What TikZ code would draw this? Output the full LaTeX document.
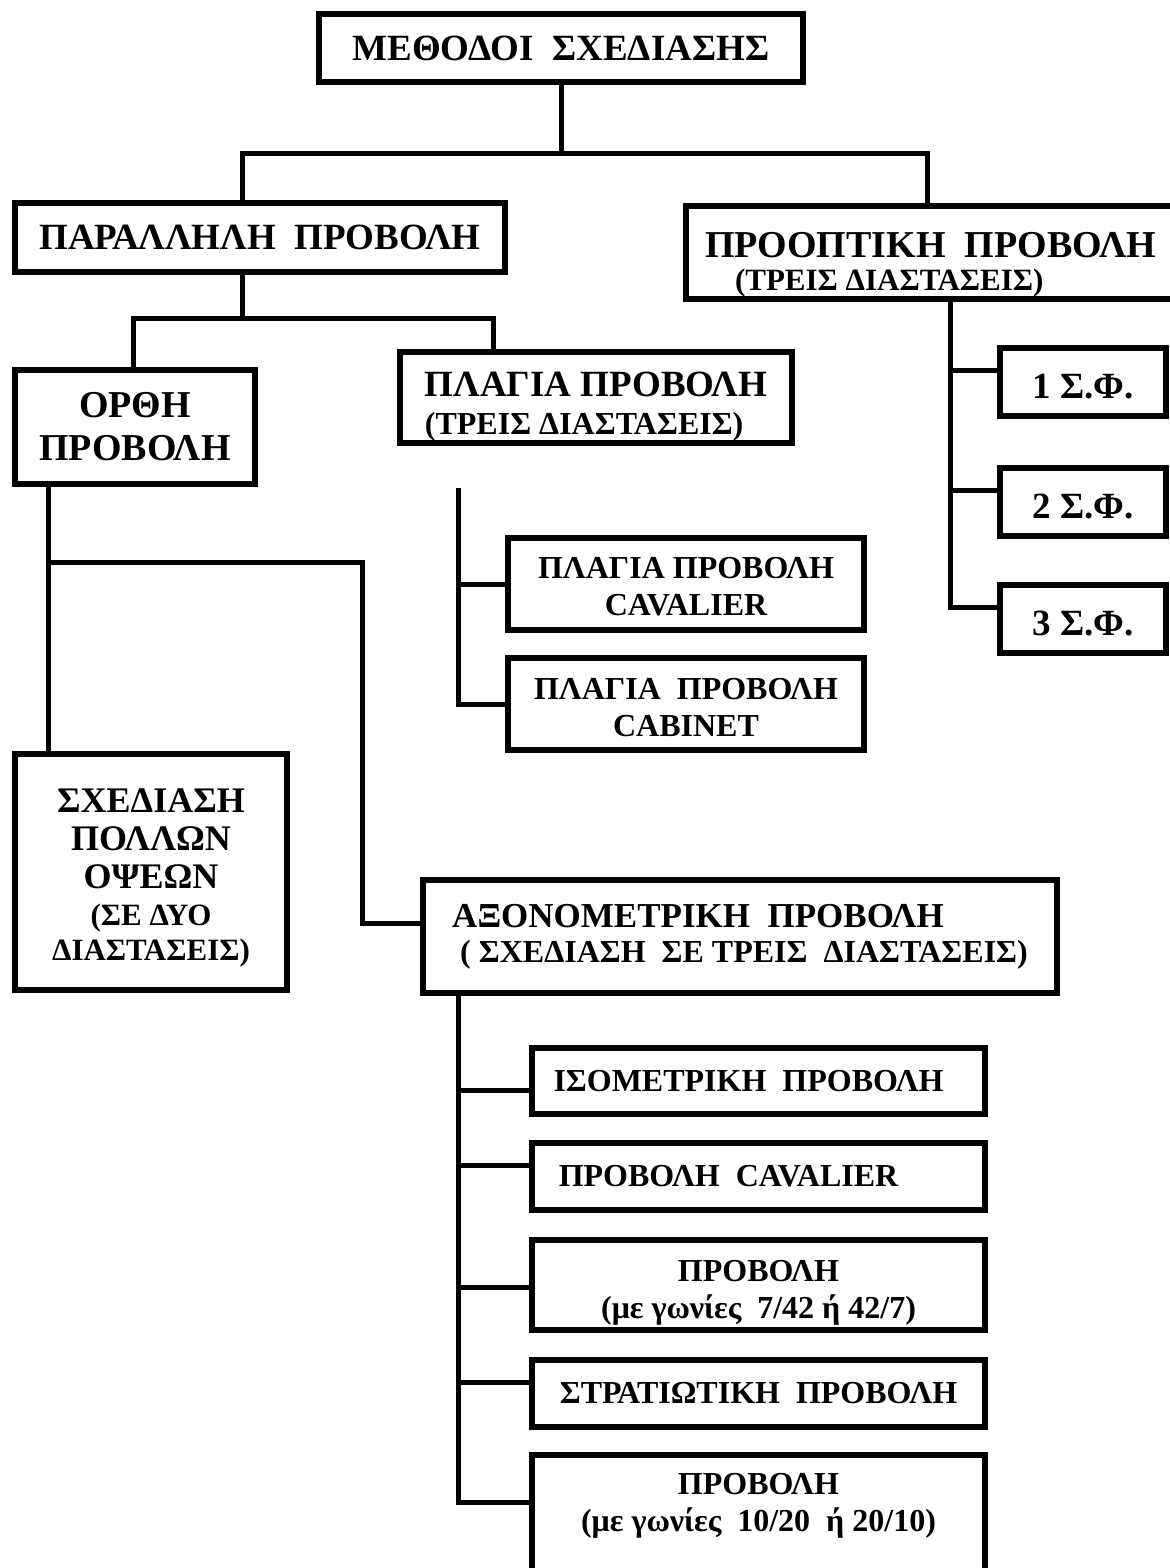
\documentclass[tikz,border=0pt]{standalone}
\usepackage{fontspec}
\setmainfont{Liberation Serif}
\usepackage{tikz}

\begin{document}
\begin{tikzpicture}[x=0.5pt,y=-0.5pt]
    \tikzstyle{box} = [rectangle, draw, line width=3pt, align=center, inner sep=0pt, font=\bfseries\fontsize{16}{18.5}\selectfont]
    \tikzstyle{big} = [font=\bfseries\fontsize{18.5}{21}\selectfont]
    \tikzstyle{link} = [line width=2.5pt]
    \useasboundingbox (0,0) rectangle (1169,1568);

    \node[box, big, minimum width=242pt, minimum height=34pt] (title) at (561,48) {ΜΕΘΟΔΟΙ~~ΣΧΕΔΙΑΣΗΣ};

    \node[box, big, minimum width=245pt, minimum height=34.5pt] (par) at (260,237.5) {ΠΑΡΑΛΛΗΛΗ~~ΠΡΟΒΟΛΗ};
    \node[box, align=left, font=\bfseries\fontsize{19}{16.5}\selectfont, minimum width=244.5pt, minimum height=46.5pt] (persp) at (930.5,252.5) {\rule{0pt}{25pt}ΠΡΟΟΠΤΙΚΗ~~ΠΡΟΒΟΛΗ\\\hspace*{15pt}{\fontsize{15.5}{16.5}\selectfont(ΤΡΕΙΣ ΔΙΑΣΤΑΣΕΙΣ)}};

    \node[box, font=\bfseries\fontsize{19}{21.5}\selectfont, minimum width=120pt, minimum height=57pt] (orth) at (135,427) {ΟΡΘΗ\\ΠΡΟΒΟΛΗ};
    \node[box, align=left, font=\bfseries\fontsize{18.5}{19}\selectfont, minimum width=196pt, minimum height=45.5pt] (plag) at (596,397.5) {\rule{0pt}{21.2pt}ΠΛΑΓΙΑ ΠΡΟΒΟΛΗ\\{\fontsize{16}{19}\selectfont(ΤΡΕΙΣ ΔΙΑΣΤΑΣΕΙΣ)}};

    \node[box, minimum width=178pt, minimum height=46pt] (cav) at (686,584) {\rule{0pt}{13.5pt}ΠΛΑΓΙΑ ΠΡΟΒΟΛΗ\\CAVALIER};
    \node[box, minimum width=178pt, minimum height=46pt] (cab) at (686,704) {\rule{0pt}{14.5pt}ΠΛΑΓΙΑ~~ΠΡΟΒΟΛΗ\\CABINET};

    \node[box, big, minimum width=83pt, minimum height=34pt] (sf1) at (1083,382) {\rule{0pt}{17pt}1 Σ.Φ.};
    \node[box, big, minimum width=83pt, minimum height=34pt] (sf2) at (1083,502) {\rule{0pt}{17pt}2 Σ.Φ.};
    \node[box, big, minimum width=83pt, minimum height=34pt] (sf3) at (1083,619) {\rule{0pt}{17pt}3 Σ.Φ.};

    \node[box, font=\bfseries\fontsize{18}{19}\selectfont, minimum width=136pt, minimum height=118pt] (multi) at (151,872) {\rule{0pt}{17.9pt}ΣΧΕΔΙΑΣΗ\\ΠΟΛΛΩΝ\\ΟΨΕΩΝ\\[-0.5pt]{\fontsize{15.5}{17.5}\selectfont(ΣΕ ΔΥΟ}\\[-1.5pt]{\fontsize{15.5}{17.5}\selectfont ΔΙΑΣΤΑΣΕΙΣ)}};

    \node[box, align=left, font=\bfseries\fontsize{17.5}{17.5}\selectfont, minimum width=317pt, minimum height=56.5pt] (axo) at (740,936.5) {ΑΞΟΝΟΜΕΤΡΙΚΗ~~ΠΡΟΒΟΛΗ\\\hspace*{4pt}{\fontsize{16}{17.5}\selectfont(~ΣΧΕΔΙΑΣΗ~~ΣΕ ΤΡΕΙΣ~~ΔΙΑΣΤΑΣΕΙΣ)}};

    \node[box, minimum width=226.5pt, minimum height=33pt] (iso) at (758.5,1081) {ΙΣΟΜΕΤΡΙΚΗ~~ΠΡΟΒΟΛΗ\hspace*{10pt}};
    \node[box, minimum width=226.5pt, minimum height=33.5pt] (pcav) at (758.5,1176.5) {ΠΡΟΒΟΛΗ~~CAVALIER\hspace*{30pt}};
    \node[box, minimum width=226.5pt, minimum height=45pt] (p742) at (758.5,1285) {\rule{0pt}{18pt}ΠΡΟΒΟΛΗ\\(με γωνίες~~7/42 ή 42/7)};
    \node[box, minimum width=226.5pt, minimum height=33.5pt] (strat) at (758.5,1393.5) {ΣΤΡΑΤΙΩΤΙΚΗ~~ΠΡΟΒΟΛΗ};
    \node[box, minimum width=226.5pt, minimum height=59.5pt] (last) at (758.5,1514.5) {ΠΡΟΒΟΛΗ\\(με γωνίες~~10/20~~ή 20/10)\\[-12pt]\strut};

    \coordinate (b0l) at (242,153);
    \coordinate (b0r) at (927,153);
    \coordinate (b1c) at (242,318);
    \coordinate (b1l) at (133,318);
    \coordinate (b1r) at (493,318);
    \coordinate (ptop) at (458,488);
    \coordinate (pj) at (950,0);
    \coordinate (oj) at (48,0);
    \coordinate (ob) at (48,562);
    \coordinate (ob2) at (362,562);
    \coordinate (aj) at (458,0);

    \draw[link] (title.south) -- (title.south |- b0l);
    \draw[link] (par.north -| b0l) -- (b0l) -- (b0r) -- (persp.north -| b0r);
    \draw[link] (par.south -| b1c) -- (b1c);
    \draw[link] (orth.north -| b1l) -- (b1l) -- (b1r) -- (plag.north -| b1r);
    \draw[link] (ptop) |- (cab.west);
    \draw[link] (ptop |- cav.west) -- (cav.west);
    \draw[link] (persp.south -| pj) |- ([yshift=6pt]sf3.west);
    \foreach \n in {sf1,sf2}
        \draw[link] ([yshift=6pt]\n.west) -- ([yshift=6pt]\n.west -| pj);
    \draw[link] (orth.south -| oj) -- (multi.north -| oj);
    \draw[link] (ob) -- (ob2) |- ([yshift=6.75pt]axo.west);
    \draw[link] (axo.south -| aj) |- ([yshift=6.25pt]last.west);
    \foreach \n/\s in {iso/-4.5,pcav/5.75,p742/-1,strat/5.75}
        \draw[link] ([yshift=\s pt]\n.west) -- ([yshift=\s pt]\n.west -| aj);
\end{tikzpicture}
\end{document}
